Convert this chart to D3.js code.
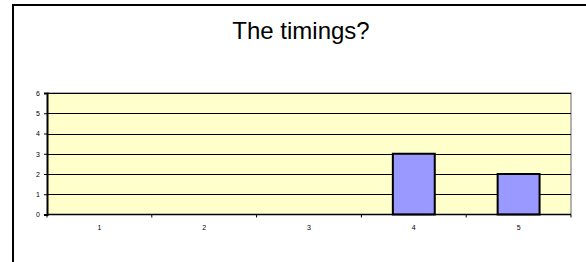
<!DOCTYPE html>
<html><head><meta charset="utf-8">
<script src="https://cdn.jsdelivr.net/npm/d3@7"></script>
<style>body{margin:0;background:#fff;}svg{display:block;}</style>
</head><body>
<script>
const title = "The timings?";
const categories = ["1","2","3","4","5"];
const values = [0,0,0,3,2];
const yTicks = [0,1,2,3,4,5,6];

const W = 586, H = 262;
const svg = d3.select("body").append("svg").attr("width", W).attr("height", H);
svg.append("rect").attr("width", W).attr("height", H).attr("fill", "#fff");
svg.append("rect").attr("x", 13).attr("y", 5).attr("width", 640).attr("height", 320)
  .attr("fill", "none").attr("stroke", "#000").attr("stroke-width", 2);

svg.append("text").attr("x", 301).attr("y", 39).attr("text-anchor", "middle")
  .attr("font-family", "Liberation Sans, Arial, sans-serif").attr("font-size", 24).text(title);

const L = 47, R = 571, T = 93, B = 214.5;
const x = d3.scaleBand().domain(categories).range([L, R]).paddingInner(0.6).paddingOuter(0.3);
const xb = d3.scaleBand().domain(categories).range([L, R]);
const y = d3.scaleLinear().domain([0, 6]).range([B, T]);

svg.append("rect").attr("x", L).attr("y", T).attr("width", R - L).attr("height", B - T).attr("fill", "#FFFFCC");
svg.append("path").attr("d", `M${L},${T}H${R}V${B}`).attr("fill","none").attr("stroke","#999").attr("stroke-width",1.5);

svg.append("g").selectAll("line").data(yTicks.slice(1)).join("line")
  .attr("x1", L).attr("x2", R).attr("y1", d => Math.round(y(d)) + 0.5).attr("y2", d => Math.round(y(d)) + 0.5)
  .attr("stroke", "#000").attr("stroke-width", 1);

const barData = categories.map((c, i) => ({c, v: values[i]})).filter(d => d.v > 0);
svg.append("g").selectAll("rect").data(barData).join("rect")
  .attr("x", d => x(d.c)).attr("width", x.bandwidth())
  .attr("y", d => y(d.v)).attr("height", d => y(0) - y(d.v))
  .attr("fill", "#9999FF").attr("stroke", "#000").attr("stroke-width", 2);

const yAxis = svg.append("g").attr("transform", `translate(${L},0)`)
  .call(d3.axisLeft(y).tickValues(yTicks).tickSize(3).tickPadding(4).tickFormat(d3.format("d")));
yAxis.select(".domain").attr("stroke-width", 2);
yAxis.selectAll("text").attr("font-family", "Liberation Sans, Arial, sans-serif").attr("font-size", 7).attr("fill", "#000");

const xAxis = svg.append("g").attr("transform", `translate(0,${B})`)
  .call(d3.axisBottom(xb).tickSize(0).tickPadding(11));
xAxis.select(".domain").attr("stroke-width", 1.5).attr("d", `M${L},0H${R}`);
xAxis.selectAll("text").attr("font-family", "Liberation Sans, Arial, sans-serif").attr("font-size", 7).attr("fill", "#000");
svg.append("g").selectAll("line").data(categories.map(c => xb(c)).concat([R])).join("line")
  .attr("x1", d => d).attr("x2", d => d).attr("y1", B).attr("y2", B + 3).attr("stroke", "#000");
</script>
</body></html>
